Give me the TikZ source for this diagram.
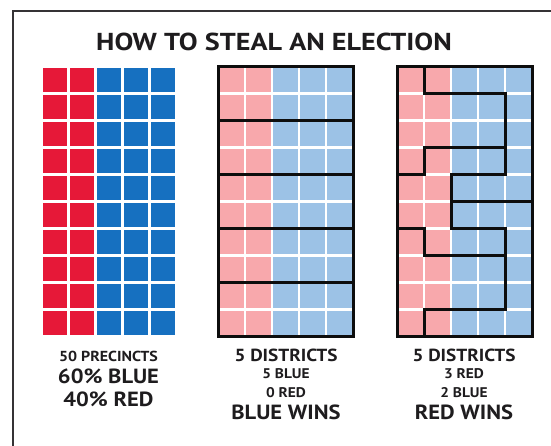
\documentclass[tikz,border=0pt]{standalone}
\usepackage{fontspec}
\setmainfont[FakeStretch=1.1]{PT Sans}
\newfontfamily\titlefont[FakeStretch=1.15]{PT Sans}
\definecolor{cred}{RGB}{230,24,56}
\definecolor{cblue}{RGB}{22,112,192}
\definecolor{cpink}{RGB}{248,168,172}
\definecolor{clblue}{RGB}{156,194,230}
\definecolor{ink}{RGB}{30,28,30}
\tikzset{
  frameline/.style={draw=ink!90,line width=2pt},
  distline/.style={draw=black!95,line width=3pt,line cap=rect,line join=miter},
  gridline/.style={draw=white,line width=2.2pt},
  lbl/.style={anchor=base,text=ink,font=\bfseries,inner sep=0pt}
}
\begin{document}
\begin{tikzpicture}[x=1pt,y=-1pt]
\useasboundingbox (0,0) rectangle (551,445);
\fill[white] (0,0) rectangle (551,445);
\draw[frameline] (13,446) -- (13,11) -- (552,11);
\node[lbl,font=\titlefont\bfseries\fontsize{24.5}{28}\selectfont] (title) at (274,50) {HOW TO STEAL AN ELECTION};
% left grid
\begin{scope}[shift={(41.5pt,-66.5pt)},x=27pt,y=-27pt]
  \foreach \c in {0,...,4} {
    \foreach \r in {0,...,9} {
      \ifnum\c<2 \def\fc{cred}\else\def\fc{cblue}\fi
      \fill[\fc] (\c+0.045,\r+0.045) rectangle (\c+0.955,\r+0.955);
    }
  }
\end{scope}
% middle grid
\begin{scope}[shift={(218pt,-66.5pt)},x=27pt,y=-27pt]
  \fill[cpink] (0,0) rectangle (2,10);
  \fill[clblue] (2,0) rectangle (5,10);
  \foreach \c in {1,...,4} \draw[gridline] (\c,0) -- (\c,10);
  \foreach \r in {1,...,9} \draw[gridline] (0,\r) -- (5,\r);
  \draw[distline] (0,0) rectangle (5,10);
  \foreach \r in {2,4,6,8} \draw[distline] (0,\r) -- (5,\r);
\end{scope}
% right grid
\begin{scope}[shift={(397pt,-66.5pt)},x=27pt,y=-27pt]
  \fill[cpink] (0,0) rectangle (2,10);
  \fill[clblue] (2,0) rectangle (5,10);
  \foreach \c in {1,...,4} \draw[gridline] (\c,0) -- (\c,10);
  \foreach \r in {1,...,9} \draw[gridline] (0,\r) -- (5,\r);
  \draw[distline] (0,0) rectangle (5,10);
  \draw[distline] (1,0) -- (1,1) -- (4,1) -- (4,4) -- (2,4) -- (2,6) -- (4,6) -- (4,9) -- (1,9) -- (1,10);
  \draw[distline] (0,4) -- (1,4) -- (1,3) -- (4,3);
  \draw[distline] (2,5) -- (5,5);
  \draw[distline] (0,6) -- (1,6) -- (1,7) -- (4,7);
\end{scope}
% captions
\node[lbl,font=\bfseries\fontsize{14.5}{16}\selectfont] (l1) at (108.5,361) {50 PRECINCTS};
\node[lbl,font=\bfseries\fontsize{20.5}{24}\selectfont] (l2) at (108.5,383) {60\% BLUE};
\node[lbl,font=\bfseries\fontsize{20.5}{24}\selectfont] (l3) at (108.5,406) {40\% RED};
\node[lbl,font=\bfseries\fontsize{17.5}{20}\selectfont] (m1) at (286,361) {5 DISTRICTS};
\node[lbl,font=\bfseries\fontsize{14}{16}\selectfont] (m2) at (286,378) {5 BLUE};
\node[lbl,font=\bfseries\fontsize{14}{16}\selectfont] (m3) at (286,397) {0 RED};
\node[lbl,font=\bfseries\fontsize{20.5}{24}\selectfont] (m4) at (286,419) {BLUE WINS};
\node[lbl,font=\bfseries\fontsize{17.5}{20}\selectfont] (r1) at (464,361) {5 DISTRICTS};
\node[lbl,font=\bfseries\fontsize{14}{16}\selectfont] (r2) at (464,378) {3 RED};
\node[lbl,font=\bfseries\fontsize{14}{16}\selectfont] (r3) at (464,397) {2 BLUE};
\node[lbl,font=\bfseries\fontsize{20.5}{24}\selectfont] (r4) at (464,419) {RED WINS};
\end{tikzpicture}
\end{document}
